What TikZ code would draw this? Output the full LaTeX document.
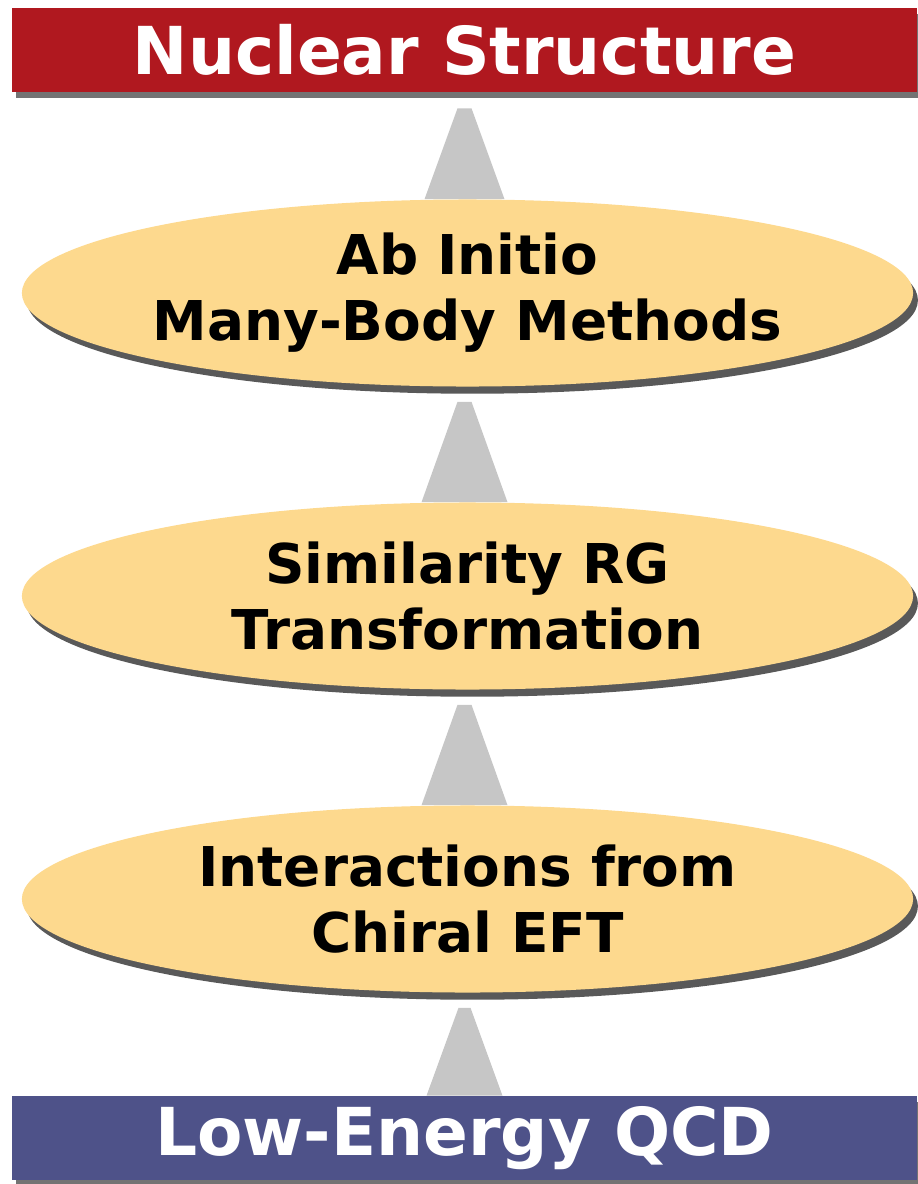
\documentclass[tikz,border=0pt]{standalone}
\usepackage{fontspec}
\setmainfont{DejaVu Sans}
\usepackage{tikz}
\usetikzlibrary{positioning,calc,shapes.geometric,shadows,backgrounds}
\definecolor{nsred}{HTML}{B0181F}
\definecolor{qcdblue}{HTML}{4E5289}
\definecolor{methfill}{HTML}{FDD98E}
\definecolor{flowgray}{HTML}{C6C6C6}
\tikzset{
  x=0.025cm, y=-0.025cm,
  endbox/.style={rectangle,minimum width=22.625cm,minimum height=2.1cm,
    inner sep=0pt,text=white,font=\fontsize{47}{54}\selectfont\bfseries,
    drop shadow={shadow xshift=0.1cm,shadow yshift=-0.15cm,fill=black,opacity=0.55}},
  method/.style={ellipse,fill=methfill,minimum width=22.275cm,minimum height=4.675cm,
    inner sep=0pt,align=center,font=\fontsize{39}{47}\selectfont\bfseries,
    drop shadow={shadow xshift=0.12cm,shadow yshift=-0.18cm,fill=black,opacity=0.65}},
  upflow/.style={fill=flowgray},
}
\begin{document}
\begin{tikzpicture}
  \useasboundingbox (0,0) rectangle (917,1184);
  \node[endbox,fill=nsred] (ns) at (464.5,50) {Nuclear Structure};
  \node[method] (abinitio) at (467.5,293) {Ab Initio\\Many-Body Methods};
  \node[method] (srg) at (467.5,596) {Similarity RG\\Transformation};
  \node[method] (chiral) at (467.5,899) {Interactions from\\Chiral EFT};
  \node[endbox,fill=qcdblue] (qcd) at (464.5,1138) {Low-Energy QCD};
  % gray flow wedges, drawn behind the nodes
  \begin{scope}[on background layer]
    \fill[upflow] ($(qcd.north)+(-38,0)$) -- ($(chiral.south)+(-9,15)$)
      -- ($(chiral.south)+(3,15)$) -- ($(qcd.north)+(38,0)$) -- cycle;
    \fill[upflow] ($(chiral.north)+(-46,0)$) -- ($(srg.south)+(-10,15)$)
      -- ($(srg.south)+(4,15)$) -- ($(chiral.north)+(40,0)$) -- cycle;
    \fill[upflow] ($(srg.north)+(-46,0)$) -- ($(abinitio.south)+(-10,15)$)
      -- ($(abinitio.south)+(4,15)$) -- ($(srg.north)+(40,0)$) -- cycle;
    \fill[upflow] ($(abinitio.north)+(-43,0)$) -- ($(ns.south)+(-7,16)$)
      -- ($(ns.south)+(7,16)$) -- ($(abinitio.north)+(37,0)$) -- cycle;
  \end{scope}
\end{tikzpicture}
\end{document}
